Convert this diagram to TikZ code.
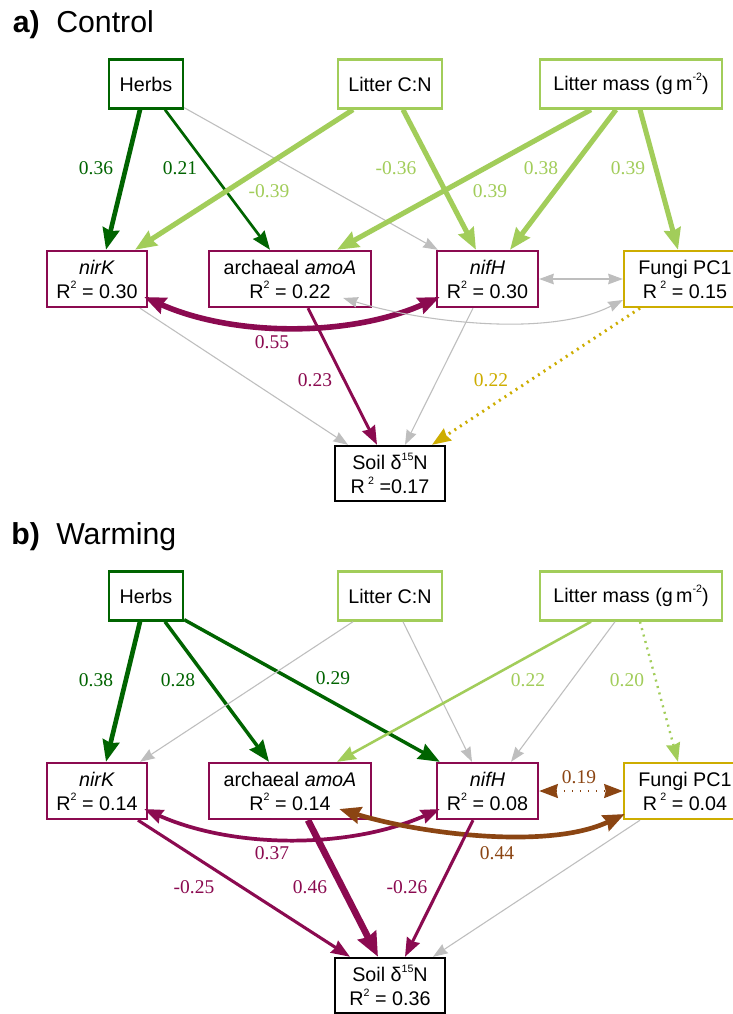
\documentclass[tikz,border=0pt]{standalone}
\usepackage{fontspec}
\setmainfont{Liberation Sans}
\newfontfamily\seriffont{Liberation Serif}
\usetikzlibrary{arrows.meta,calc}
\definecolor{dkgreen}{RGB}{0,100,0}
\definecolor{ltgreen}{RGB}{162,205,90}
\definecolor{maroonx}{RGB}{139,10,80}
\definecolor{goldx}{RGB}{205,173,0}
\definecolor{brownx}{RGB}{139,69,19}
\definecolor{grayx}{RGB}{190,190,190}
\newcommand{\supx}[1]{\raisebox{0.9ex}{\fontsize{8}{8}\selectfont #1}}
\begin{document}
\begin{tikzpicture}[x=0.75pt,y=-0.75pt,
  box/.style={draw, line width=1.8pt, inner sep=0pt, align=center,
    font=\fontsize{14.8}{18}\selectfont, minimum height=49*0.75pt},
  gbox/.style={box, draw=maroonx, minimum height=56*0.75pt},
  lab/.style={inner sep=0pt, font=\seriffont\fontsize{14.6}{17}\selectfont},
  ttl/.style={anchor=base west, inner sep=0pt, font=\fontsize{22.7}{26}\selectfont},
  tipXL/.style={-{Stealth[length=18pt,width=15pt,inset=1.5pt]}},
  tipL/.style={-{Stealth[length=16pt,width=12.5pt,inset=1.5pt]}},
  tipM/.style={-{Stealth[length=14pt,width=10.5pt,inset=1.2pt]}},
  tipS/.style={-{Stealth[length=11pt,width=8pt,inset=1pt]}},
  dtipL/.style={{Stealth[length=16pt,width=12.5pt,inset=1.5pt]}-{Stealth[length=16pt,width=12.5pt,inset=1.5pt]}},
  dtipM/.style={{Stealth[length=14pt,width=10.5pt,inset=1.2pt]}-{Stealth[length=14pt,width=10.5pt,inset=1.2pt]}},
  dtipS/.style={{Stealth[length=11pt,width=8pt,inset=1pt]}-{Stealth[length=11pt,width=8pt,inset=1pt]}},
  grayedge/.style={draw=grayx, line width=0.8pt},
  dotline/.style={dash pattern=on 1.5pt off 3.5pt}
]
\path[use as bounding box, fill=white] (0,0) rectangle (732,1014);

% ---------------- Panel a ----------------
\node[ttl, font=\fontsize{22.7}{26}\selectfont\bfseries] (ta) at (12.5,32) {a)};
\node[ttl] (tta) at (56,32) {Control};

\node[box, draw=dkgreen, minimum width=74*0.75pt] (Ha) at (146,84) {Herbs};
\node[box, draw=ltgreen, minimum width=104*0.75pt] (Ca) at (390,84) {Litter C:N};
\node[box, draw=ltgreen, minimum width=182*0.75pt] (Ma) at (631,84) {Litter mass (g\,m\supx{-2})};
\node[gbox, minimum width=100*0.75pt] (Ka) at (97,279) {\textit{nirK}\\R\supx{2} = 0.30};
\node[gbox, minimum width=162*0.75pt] (Aa) at (290,279) {archaeal \textit{amoA}\\R\supx{2} = 0.22};
\node[gbox, minimum width=101*0.75pt] (Na) at (487.5,279) {\textit{nifH}\\R\supx{2} = 0.30};
\node[box, draw=goldx, minimum width=122*0.75pt, minimum height=56*0.75pt] (Fa) at (685,279) {Fungi PC1\\R\,\supx{2} = 0.15};
\node[box, draw=black, minimum width=110*0.75pt, minimum height=55*0.75pt] (Sa) at (390,473.5) {Soil δ\supx{15}N\\R\,\supx{2} =0.17};

\draw[dkgreen, line width=3.5pt, tipL] ($(Ha.south)+(-6,0)$) -- ($(Ka.north)+(9,0)$);
\draw[dkgreen, line width=2pt, tipM] ($(Ha.south)+(19,0)$) -- ($(Aa.north)+(-20,0)$);
\draw[grayedge, tipS] ($(Ha.south east)+(0,-2)$) -- ($(Na.north west)+(2,0)$);
\draw[ltgreen, line width=3.8pt, tipL] ($(Ca.south)+(-37,0)$) -- ($(Ka.north)+(38,0)$);
\draw[ltgreen, line width=3.8pt, tipL] ($(Ca.south)+(13,0)$) -- ($(Na.north)+(-11.5,0)$);
\draw[ltgreen, line width=3.8pt, tipL] ($(Ma.south)+(-40,0)$) -- ($(Aa.north)+(47,0)$);
\draw[ltgreen, line width=3.8pt, tipL] ($(Ma.south)+(-15,0)$) -- ($(Na.north)+(22.5,0)$);
\draw[ltgreen, line width=3.8pt, tipL] ($(Ma.south)+(9,0)$) -- ($(Fa.north)+(-7,0)$);
\draw[maroonx, line width=4.2pt, dtipL] ($(Ka.east)+(-4,18)$) .. controls ($(Ka.east)+(86,58)$) and ($(Na.west)+(-86,58)$) .. ($(Na.west)+(4,18)$);
\draw[grayedge, dtipS] ($(Aa.east)+(-29,19)$) .. controls ($(Aa.east)+(49,43)$) and ($(Fa.west)+(-74,59)$) .. ($(Fa.west)+(0,21)$);
\draw[grayedge, dtipS] (Na.east) -- (Fa.west);
\draw[grayedge, tipS] ($(Ka.south)+(43,0)$) -- ($(Sa.north)+(-42,0)$);
\draw[maroonx, line width=2.2pt, tipM] ($(Aa.south)+(18,0)$) -- ($(Sa.north)+(-13,0)$);
\draw[grayedge, tipS] ($(Na.south)+(-14.5,0)$) -- ($(Sa.north)+(15,0)$);
\draw[goldx, line width=2.2pt, dotline, tipM] ($(Fa.south)+(-45,0)$) -- ($(Sa.north)+(42,0)$);

\node[lab, text=dkgreen] (la1) at (96,168) {0.36};
\node[lab, text=dkgreen] (la2) at (180,168) {0.21};
\node[lab, text=ltgreen] (la3) at (269,191) {-0.39};
\node[lab, text=ltgreen] (la4) at (396,168) {-0.36};
\node[lab, text=ltgreen] (la5) at (490,191) {0.39};
\node[lab, text=ltgreen] (la6) at (541,168) {0.38};
\node[lab, text=ltgreen] (la7) at (628,168) {0.39};
\node[lab, text=maroonx] (la8) at (272,342) {0.55};
\node[lab, text=maroonx] (la9) at (315,380) {0.23};
\node[lab, text=goldx] (la10) at (491,380) {0.22};

% ---------------- Panel b ----------------
\node[ttl, font=\fontsize{22.7}{26}\selectfont\bfseries] (tb) at (11,544) {b)};
\node[ttl] (ttb) at (56,544) {Warming};

\node[box, draw=dkgreen, minimum width=74*0.75pt] (Hb) at (146,596) {Herbs};
\node[box, draw=ltgreen, minimum width=104*0.75pt] (Cb) at (390,596) {Litter C:N};
\node[box, draw=ltgreen, minimum width=182*0.75pt] (Mb) at (631,596) {Litter mass (g\,m\supx{-2})};
\node[gbox, minimum width=100*0.75pt] (Kb) at (97,791) {\textit{nirK}\\R\supx{2} = 0.14};
\node[gbox, minimum width=162*0.75pt] (Ab) at (290,791) {archaeal \textit{amoA}\\R\supx{2} = 0.14};
\node[gbox, minimum width=101*0.75pt] (Nb) at (487.5,791) {\textit{nifH}\\R\supx{2} = 0.08};
\node[box, draw=goldx, minimum width=122*0.75pt, minimum height=56*0.75pt] (Fb) at (685,791) {Fungi PC1\\R\,\supx{2} = 0.04};
\node[box, draw=black, minimum width=110*0.75pt, minimum height=55*0.75pt] (Sb) at (390,985.5) {Soil δ\supx{15}N\\R\supx{2} = 0.36};

\draw[dkgreen, line width=3.5pt, tipL] ($(Hb.south)+(-6,0)$) -- ($(Kb.north)+(9,0)$);
\draw[dkgreen, line width=2.6pt, tipL] ($(Hb.south)+(19,0)$) -- ($(Ab.north)+(-21,0)$);
\draw[dkgreen, line width=2.6pt, tipL] ($(Hb.south east)+(0,-2)$) -- ($(Nb.north west)+(4,0)$);
\draw[grayedge, tipS] ($(Cb.south)+(-37,0)$) -- ($(Kb.north)+(43,0)$);
\draw[grayedge, tipS] ($(Cb.south)+(13,0)$) -- ($(Nb.north)+(-15.5,0)$);
\draw[ltgreen, line width=1.9pt, tipM] ($(Mb.south)+(-40,0)$) -- ($(Ab.north)+(47,0)$);
\draw[grayedge, tipS] ($(Mb.south)+(-16,0)$) -- ($(Nb.north)+(23.5,0)$);
\draw[ltgreen, line width=1.8pt, dotline, tipM] ($(Mb.south)+(9,0)$) -- ($(Fb.north)+(-7,0)$);
\draw[maroonx, line width=2.8pt, dtipM] ($(Kb.east)+(-4,18)$) .. controls ($(Kb.east)+(86,58)$) and ($(Nb.west)+(-86,58)$) .. ($(Nb.west)+(4,18)$);
\draw[brownx, line width=3.5pt, dtipL] ($(Ab.east)+(-33,18)$) .. controls ($(Ab.east)+(49,43)$) and ($(Fb.west)+(-74,59)$) .. ($(Fb.west)+(2,23)$);
\draw[brownx, line width=1.3pt, dash pattern=on 1pt off 5pt, dtipM] (Nb.east) -- (Fb.west);
\draw[maroonx, line width=2.3pt, tipM] ($(Kb.south)+(41,0)$) -- ($(Sb.north)+(-40,0)$);
\draw[maroonx, line width=5pt, tipXL] ($(Ab.south)+(18,0)$) -- ($(Sb.north)+(-12,0)$);
\draw[maroonx, line width=2.3pt, tipM] ($(Nb.south)+(-14.5,0)$) -- ($(Sb.north)+(15,0)$);
\draw[grayedge, tipS] ($(Fb.south)+(-45,0)$) -- ($(Sb.north)+(43,0)$);

\node[lab, text=dkgreen] (lb1) at (96,680) {0.38};
\node[lab, text=dkgreen] (lb2) at (178,680) {0.28};
\node[lab, text=dkgreen] (lb3) at (333,678) {0.29};
\node[lab, text=ltgreen] (lb4) at (528,680) {0.22};
\node[lab, text=ltgreen] (lb5) at (627,680) {0.20};
\node[lab, text=brownx] (lb6) at (579,777) {0.19};
\node[lab, text=maroonx] (lb7) at (272,853) {0.37};
\node[lab, text=brownx] (lb8) at (497,853) {0.44};
\node[lab, text=maroonx] (lb9) at (194,887) {-0.25};
\node[lab, text=maroonx] (lb10) at (310,887) {0.46};
\node[lab, text=maroonx] (lb11) at (407,887) {-0.26};
\end{tikzpicture}
\end{document}
